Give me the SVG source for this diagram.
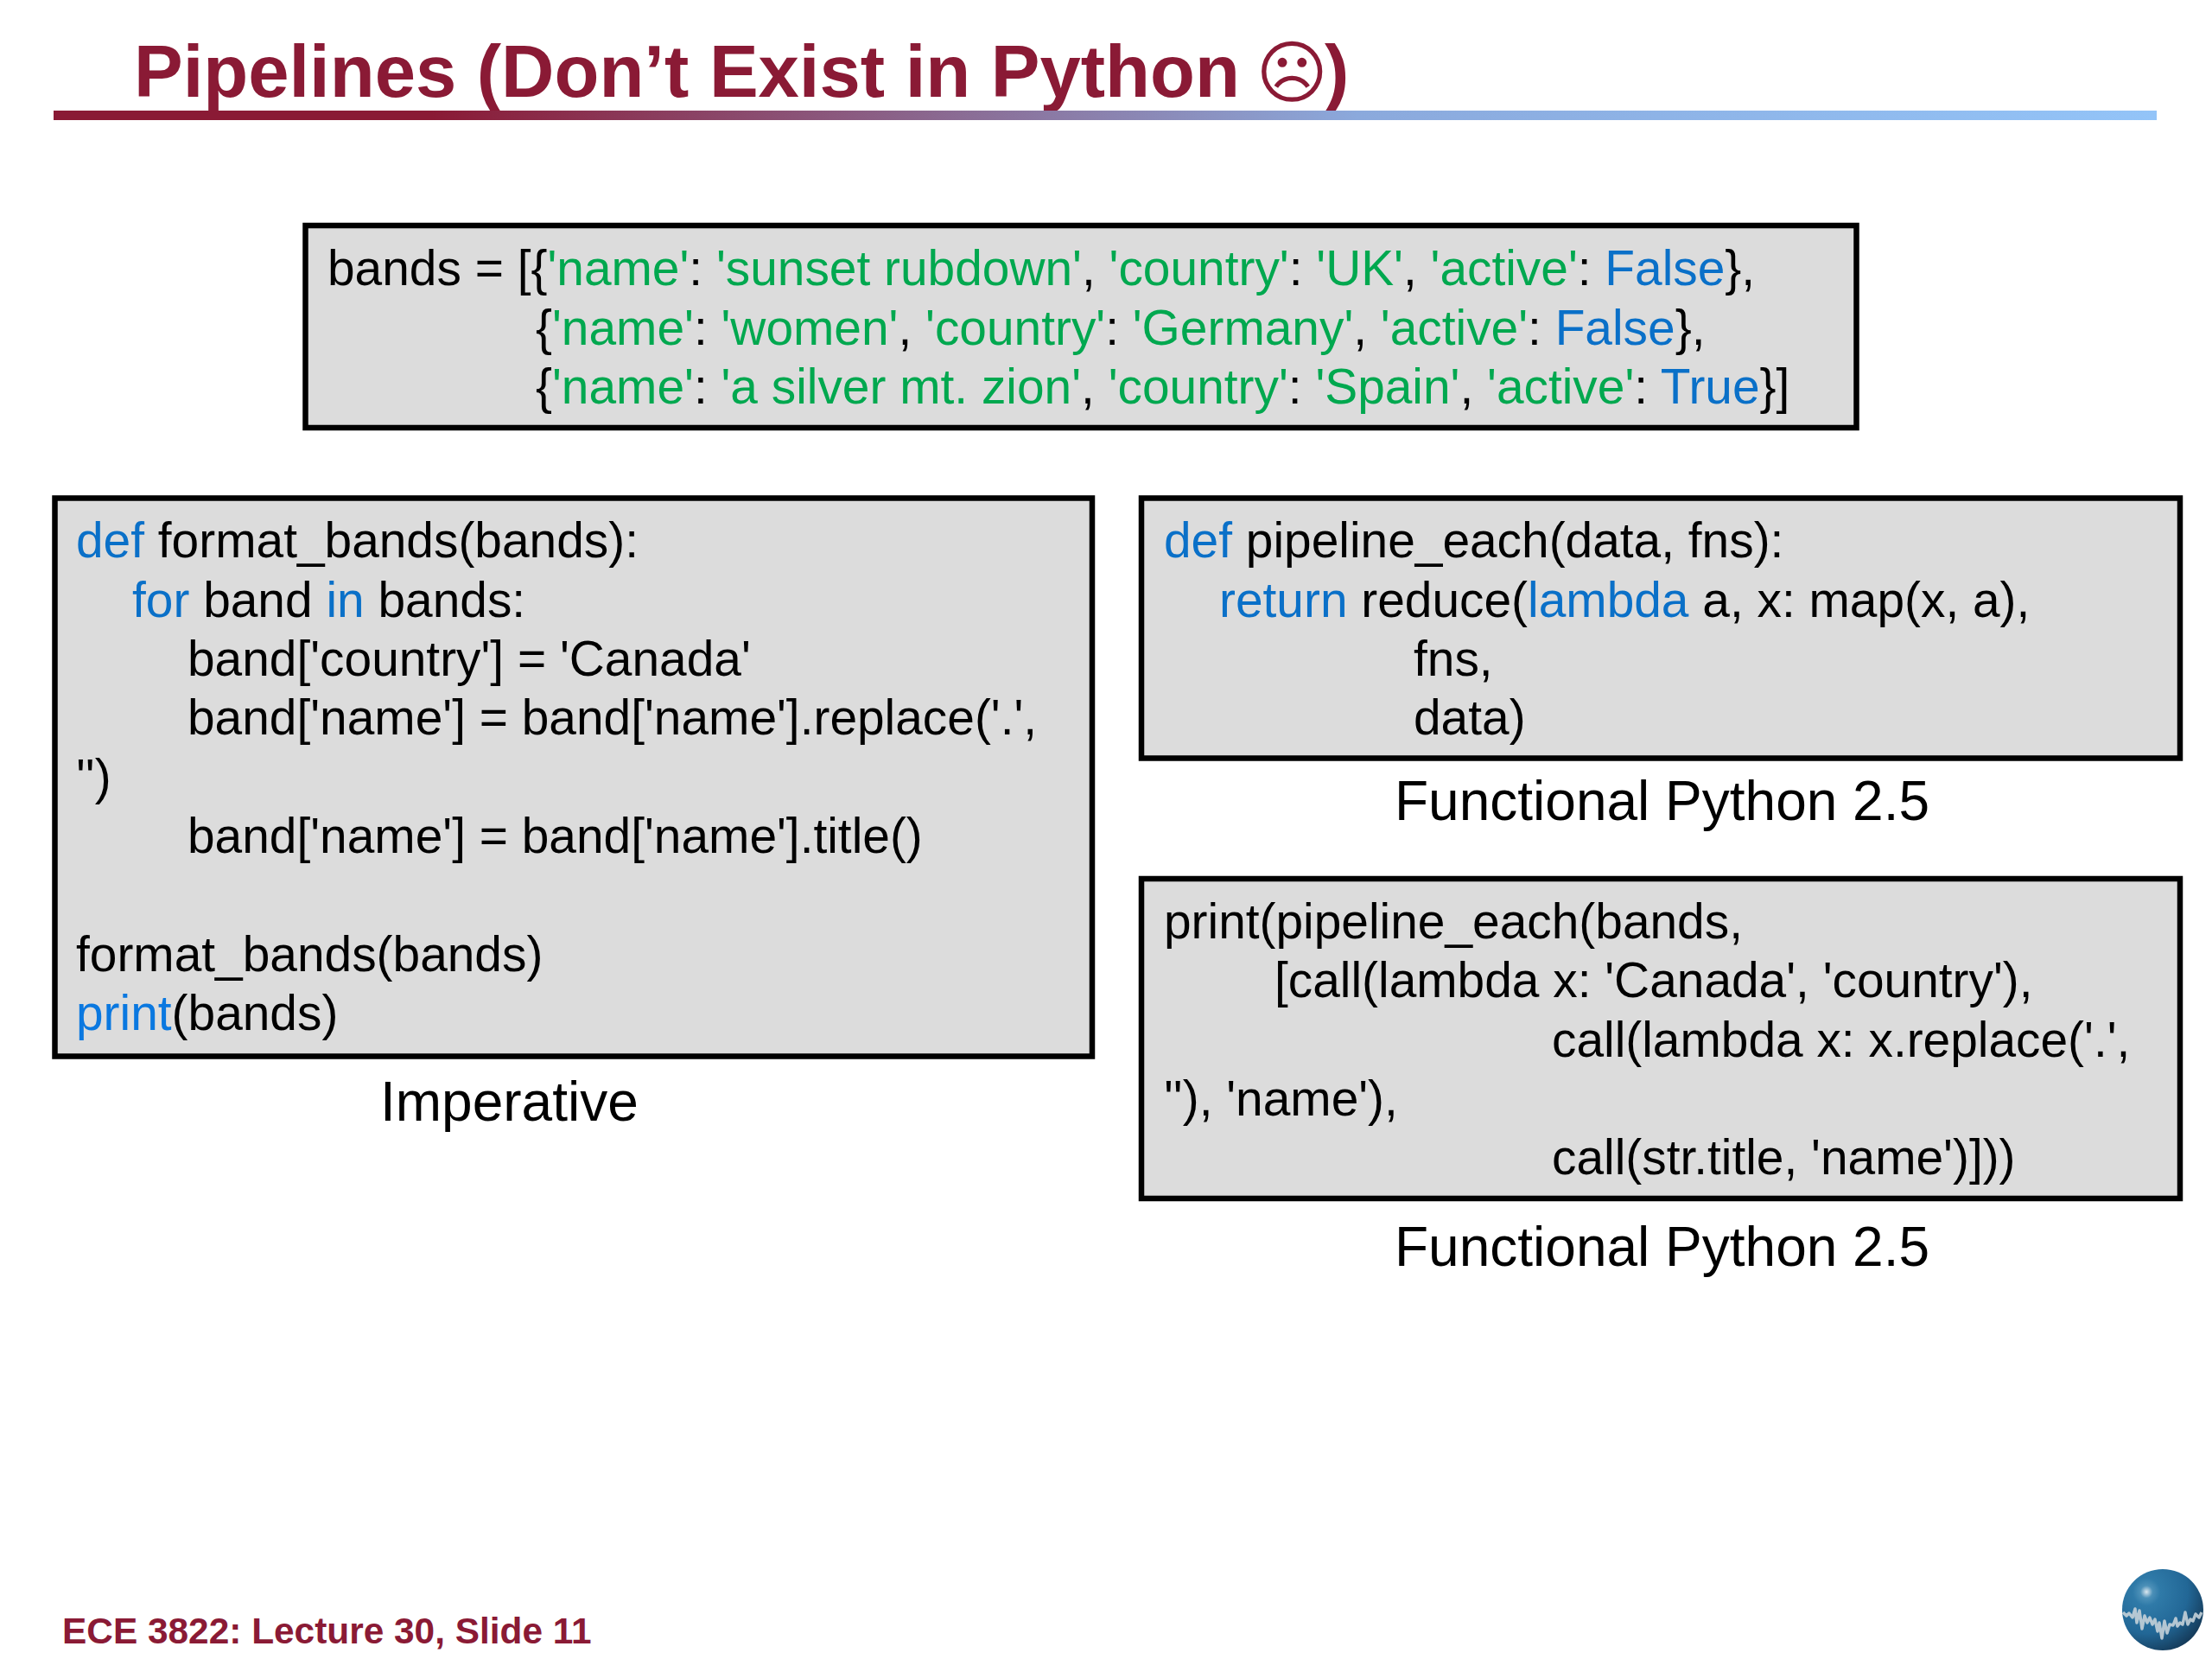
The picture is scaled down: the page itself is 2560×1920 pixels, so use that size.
<svg xmlns="http://www.w3.org/2000/svg" width="2560" height="1920" viewBox="0 0 2560 1920">
<style>
text{font-family:"Liberation Sans",Arial,sans-serif;white-space:pre}
.c{font-size:56.85px;fill:#000}
.k{fill:#0a70c8}
.s{fill:#00a84f}
.cap{font-size:64px;fill:#000}
.box{fill:#dcdcdc;stroke:#000;stroke-width:6.5}
.t{fill:#8a1a35;font-weight:bold}
</style>
<defs>
<linearGradient id="rule" x1="0" y1="0" x2="1" y2="0"><stop offset="0" stop-color="#8a1a35"/><stop offset=".18" stop-color="#8a1a35"/><stop offset=".62" stop-color="#8ba9dc"/><stop offset="1" stop-color="#93c4f8"/></linearGradient>
<radialGradient id="globe" cx=".3" cy=".28" r=".85"><stop offset="0" stop-color="#dce8f0"/><stop offset=".09" stop-color="#4c90b8"/><stop offset=".2" stop-color="#2f7aa8"/><stop offset=".6" stop-color="#226796"/><stop offset="1" stop-color="#12324e"/></radialGradient>
</defs>
<g id="title">
<text class="t" x="155" y="112" font-size="85">Pipelines (Don’t Exist in Python <tspan dx="-5" style="font-family:'DejaVu Sans'" font-weight="normal" font-size="80">☹</tspan><tspan dx="-4">)</tspan></text>
<rect x="62" y="128" width="2434" height="11" fill="url(#rule)"/>
</g>
<g id="data-box">
<rect class="box" x="353.5" y="261" width="1795" height="234"/>
<text class="c" x="379" y="330">bands = [{<tspan class="s">'name'</tspan>: <tspan class="s">'sunset rubdown'</tspan>, <tspan class="s">'country'</tspan>: <tspan class="s">'UK'</tspan>, <tspan class="s">'active'</tspan>: <tspan class="k">False</tspan>},</text>
<text class="c" x="620" y="399">{<tspan class="s">'name'</tspan>: <tspan class="s">'women'</tspan>, <tspan class="s">'country'</tspan>: <tspan class="s">'Germany'</tspan>, <tspan class="s">'active'</tspan>: <tspan class="k">False</tspan>},</text>
<text class="c" x="620" y="467">{<tspan class="s">'name'</tspan>: <tspan class="s">'a silver mt. zion'</tspan>, <tspan class="s">'country'</tspan>: <tspan class="s">'Spain'</tspan>, <tspan class="s">'active'</tspan>: <tspan class="k">True</tspan>}]</text>
</g>
<g id="imperative-box">
<rect class="box" x="63.5" y="576.5" width="1200.5" height="646"/>
<text class="c" x="88" y="645"><tspan class="k">def</tspan> format_bands(bands):</text>
<text class="c" x="153" y="714"><tspan class="k">for</tspan> band <tspan class="k">in</tspan> bands:</text>
<text class="c" x="217" y="782">band['country'] = 'Canada'</text>
<text class="c" x="217" y="850">band['name'] = band['name'].replace('.',</text>
<text class="c" x="88" y="919">'')</text>
<text class="c" x="217" y="987">band['name'] = band['name'].title()</text>
<text class="c" x="88" y="1124">format_bands(bands)</text>
<text class="c" x="88" y="1192"><tspan style="fill:#0a78e0">print</tspan>(bands)</text>
<text class="cap" x="440" y="1297">Imperative</text>
</g>
<g id="pipeline-box">
<rect class="box" x="1321" y="576.5" width="1202" height="301"/>
<text class="c" x="1347" y="645"><tspan class="k">def</tspan> pipeline_each(data, fns):</text>
<text class="c" x="1411" y="714"><tspan class="k">return</tspan> reduce(<tspan class="k">lambda</tspan> a, x: map(x, a),</text>
<text class="c" x="1636" y="782">fns,</text>
<text class="c" x="1636" y="850">data)</text>
<text class="cap" x="1614" y="949">Functional Python 2.5</text>
</g>
<g id="call-box">
<rect class="box" x="1321" y="1017" width="1202" height="370"/>
<text class="c" x="1347" y="1086">print(pipeline_each(bands,</text>
<text class="c" x="1475" y="1154">[call(lambda x: 'Canada', 'country'),</text>
<text class="c" x="1796" y="1223">call(lambda x: x.replace('.',</text>
<text class="c" x="1347" y="1291">''), 'name'),</text>
<text class="c" x="1796" y="1359">call(str.title, 'name')]))</text>
<text class="cap" x="1614" y="1465">Functional Python 2.5</text>
</g>
<g id="footer">
<text class="t" x="72" y="1902" font-size="42.4">ECE 3822: Lecture 30, Slide 11</text>
</g>
<g id="globe-logo">
<circle cx="2503" cy="1863" r="47" fill="url(#globe)"/>
<polyline points="2457,1866 2461,1870 2464,1867 2468,1872 2471,1862 2473,1878 2476,1864 2479,1885 2482,1870 2485,1878 2488,1872 2491,1880 2494,1874 2497,1888 2499,1878 2502,1896 2505,1876 2508,1890 2511,1880 2515,1881 2518,1873 2520,1882 2523,1878 2526,1880 2529,1866 2532,1880 2535,1874 2538,1876 2541,1868 2545,1872 2548,1866" fill="none" stroke="#c4d0d8" stroke-width="3.5" stroke-linejoin="round" opacity=".9"/>
</g>
</svg>
